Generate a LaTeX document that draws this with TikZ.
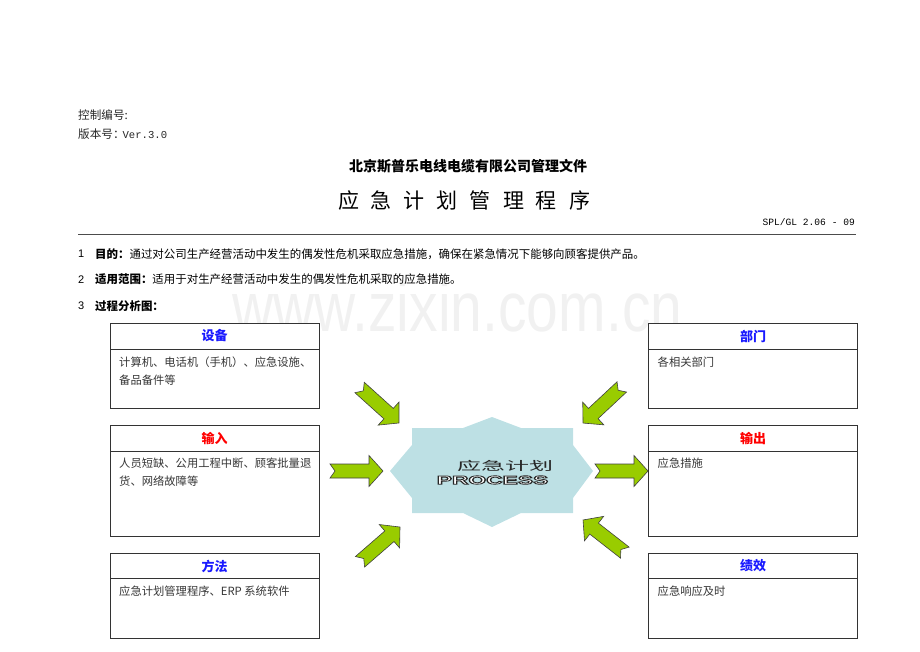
\documentclass[tikz,border=0pt]{standalone}
\usepackage{fontspec}
\setmainfont{Liberation Sans}
\newfontfamily\cjk{Noto Sans CJK SC}
\newfontfamily\monof{Liberation Mono}
\definecolor{hblue}{RGB}{26,26,255}
\definecolor{hred}{RGB}{255,0,0}
\definecolor{framec}{RGB}{51,51,51}
\definecolor{bodygray}{RGB}{55,55,55}
\definecolor{agreen}{RGB}{153,204,0}
\definecolor{starblue}{RGB}{189,224,228}
\newcommand\garrow[3]{\filldraw[garrowst, shift={(#1,#2)}, rotate=#3] (0,7) -- (39,7) -- (39,15.5) -- (53,0) -- (39,-15.5) -- (39,-7) -- (0,-7) -- (5,0) -- cycle;}
\newcommand\outlinetxt[1]{\special{pdf:code q 2 Tr 0.75 w 0.15 G}#1\special{pdf:code Q}}
\begin{document}
\begin{tikzpicture}[x=1pt,y=-1pt,
  every node/.style={inner sep=0pt},
  head/.style={anchor=west, font=\cjk\fontsize{11.6}{14}\selectfont, text=black!85},
  para/.style={anchor=west, font=\cjk\fontsize{11.45}{14}\selectfont, text=black},
  frame/.style={draw=framec, line width=1pt, fill=white},
  hdr/.style={font=\cjk\bfseries\fontsize{13}{15}\selectfont},
  body/.style={anchor=west, font=\cjk\fontsize{11.3}{14}\selectfont, text=bodygray},
  garrowst/.style={fill=agreen, draw=black!75, line width=0.6pt, line join=miter},
  proc/.style={font=\bfseries\fontsize{12}{12}\selectfont, xscale=1.9}
]
\useasboundingbox (0,0) rectangle (920,651);

% watermark
\node[anchor=base west, font=\fontsize{70}{70}\selectfont, text=gray!11, xscale=0.815] (wm) at (232,331) {www.zixin.com.cn};

% header texts
\node[head] (ctl) at (78,115) {控制编号:};
\node[head] (ver) at (78,134) {版本号：\kern-2pt{\monof\fontsize{10.6}{12}\selectfont Ver.3.0}};
\node[font=\cjk\bfseries\fontsize{14}{16}\selectfont] (co) at (468,166.5) {北京斯普乐电线电缆有限公司管理文件};
\node[font=\cjk\fontsize{21}{24}\selectfont] (title) at (464,201) {应\hspace{12pt}急\hspace{12pt}计\hspace{12pt}划\hspace{12pt}管\hspace{12pt}理\hspace{12pt}程\hspace{12pt}序};
\node[anchor=east, font=\monof\fontsize{9.6}{12}\selectfont] (code) at (855,222) {SPL/GL 2.06 - 09};
\coordinate (rl) at (78,234.5);
\coordinate (rr) at (856,234.5);
\draw[line width=0.8pt, black!70] (rl) -- (rr);

% numbered lines
\node[anchor=west, font=\fontsize{11}{13}\selectfont] (n1) at (78,254) {1};
\node[para] (p1) at (95,254) {{\bfseries 目的：}通过对公司生产经营活动中发生的偶发性危机采取应急措施，确保在紧急情况下能够向顾客提供产品。};
\node[anchor=west, font=\fontsize{11}{13}\selectfont] (n2) at (78,279.5) {2};
\node[para] (p2) at (95,279.5) {{\bfseries 适用范围：}适用于对生产经营活动中发生的偶发性危机采取的应急措施。};
\node[anchor=west, font=\fontsize{11}{13}\selectfont] (n3) at (78,306) {3};
\node[para] (p3) at (95,306) {{\bfseries 过程分析图：}};

% left boxes
\draw[frame] (110,323) rectangle (319,408);
\draw[framec, line width=1pt] (110,349) -- (319,349);
\node[hdr, text=hblue] (h1) at (214.5,336) {设备};
\node[body] (t1a) at (119,362) {计算机、电话机（手机）、应急设施、};
\node[body] (t1b) at (119,380) {备品备件等};

\draw[frame] (110,425) rectangle (319,536);
\draw[framec, line width=1pt] (110,451) -- (319,451);
\node[hdr, text=hred] (h2) at (214.5,438) {输入};
\node[body] (t2a) at (119,463.5) {人员短缺、公用工程中断、顾客批量退};
\node[body] (t2b) at (119,481.5) {货、网络故障等};

\draw[frame] (110,553) rectangle (319,638);
\draw[framec, line width=1pt] (110,578.5) -- (319,578.5);
\node[hdr, text=hblue] (h3) at (214.5,566) {方法};
\node[body] (t3a) at (119,591.5) {应急计划管理程序、ERP 系统软件};

% right boxes
\draw[frame] (648.5,323) rectangle (857.5,408);
\draw[framec, line width=1pt] (648.5,349) -- (857.5,349);
\node[hdr, text=hblue] (h4) at (753,336) {部门};
\node[body] (t4a) at (657.5,362) {各相关部门};

\draw[frame] (648.5,425) rectangle (857.5,536);
\draw[framec, line width=1pt] (648.5,451) -- (857.5,451);
\node[hdr, text=hred] (h5) at (753,438) {输出};
\node[body] (t5a) at (657.5,463.5) {应急措施};

\draw[frame] (648.5,553) rectangle (857.5,638);
\draw[framec, line width=1pt] (648.5,578.5) -- (857.5,578.5);
\node[hdr, text=hblue] (h6) at (753,566) {绩效};
\node[body] (t6a) at (657.5,591) {应急响应及时};

% central star
\fill[starblue] (412,428) -- (463,428) -- (492,417) -- (521,428) -- (573,428) -- (573,445) -- (593,471) -- (573,498) -- (573,513) -- (521,513) -- (492,527) -- (463,513) -- (412,513) -- (412,498) -- (390,471) -- (412,445) -- cycle;
\node[font=\cjk\fontsize{12}{12}\selectfont, xscale=2, text=black!85] (pc) at (505,465.5) {应急计划};
\node[proc, text=white] (pr) at (492.5,480) {\outlinetxt{PROCESS}};

% green arrows
\garrow{359.6}{387.5}{-42}
\garrow{330}{471}{0}
\garrow{360}{561.8}{41}
\garrow{621.8}{386.9}{-137}
\garrow{595}{471}{0}
\garrow{624.8}{552.6}{142}
\end{tikzpicture}
\end{document}
